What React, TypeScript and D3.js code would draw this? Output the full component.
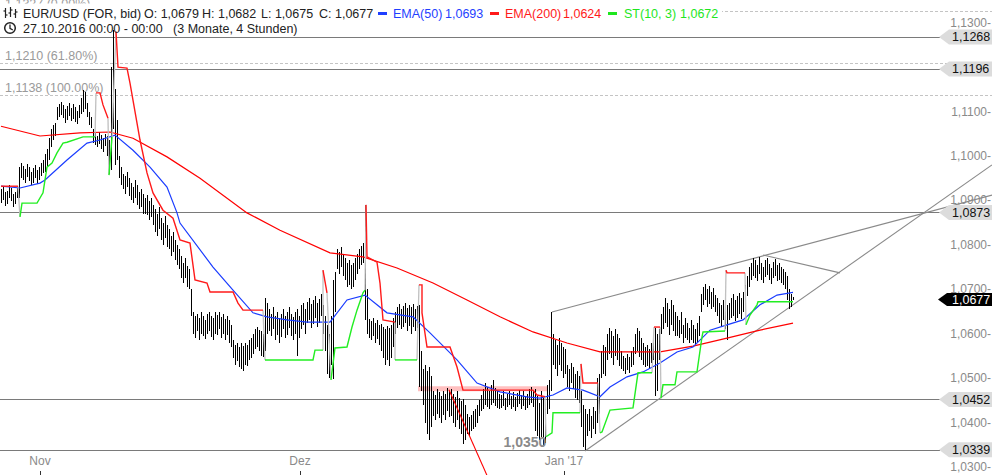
import React from 'react';
import * as d3 from 'd3';

const W = 992;
const H = 475;

// OHLC bar highs / lows, in pips above 1.0000 (e.g. 677 = 1.0677), 4-hour bars
const barHigh = [
  925, 930, 918, 922, 935, 928, 915, 920, 932,
  975,
  985, 978, 970, 982, 975, 965, 972, 980, 968, 975, 985, 990,
  1005, 1015, 1040, 1060, 1070, 1075,
  1110, 1118, 1122, 1115, 1105, 1112, 1120, 1108, 1116, 1110, 1102, 1114,
  1130, 1148, 1144, 1120, 1100, 1088,
  1060, 1052, 1045, 1055, 1048, 1040, 1050, 1045, 1035,
  1200, 1283, 1150,
  1080, 1000, 975, 960, 955, 965, 950, 940, 930, 945, 935, 920, 925, 915,
  905, 912, 898, 905, 890, 880, 870, 885, 860, 850, 865, 845,
  835, 820, 830, 810, 800, 790, 775, 760, 770, 752, 745,
  700, 650, 640, 645, 635, 648, 640, 630, 645, 650, 640, 635, 648, 642, 650, 638, 645, 632, 640, 630, 620,
  585, 575, 580, 570, 578, 572, 580, 575, 585, 590, 600, 610,
  615, 608, 605, 600, 680, 670,
  655, 645, 660, 640, 650, 635, 645, 655, 640, 648, 660, 645, 638, 650, 655, 640,
  665, 670, 655, 672, 680, 668, 675, 685, 670, 678, 690, 665, 640,
  620, 600, 640, 720, 740,
  790, 785, 795, 780, 770, 760, 765, 755, 760, 770, 780, 790, 798, 805, 890,
  700, 632, 628, 635, 625, 630, 620,
  622, 615, 610, 618, 612, 620, 635,
  650, 660, 668, 655, 662, 670, 658, 665, 660, 668, 655, 662,
  665, 560, 520, 530, 515, 525, 505,
  470, 462, 475, 468, 460, 472, 465, 478, 470,
  475, 465, 458, 470, 455, 448, 452, 440,
  420, 412, 418, 425, 430, 440,
  450, 462, 475, 490, 480, 470, 485, 495, 478, 470, 465,
  462, 470, 455, 465, 472, 460, 468, 458, 466, 474, 462, 470, 458, 465, 475, 480, 470,
  475, 460, 445, 470, 455, 430, 485, 495, 650,
  600, 585, 575, 590, 580, 570, 565,
  530, 520, 535, 525, 510, 515, 505,
  470, 440, 430,
  420, 430, 415, 435, 425, 500, 510,
  560, 575, 570,
  600, 612, 605, 595, 610, 600, 590,
  560, 550, 545, 555, 548, 562, 570,
  600, 612, 605, 590, 580, 570, 575, 565, 578, 585,
  612, 600, 610,
  645, 660, 680, 670, 655, 675, 665, 650,
  640, 630, 650, 620, 635, 625, 612, 630, 620, 610, 625, 640,
  690, 705, 712, 700, 708, 695, 702, 688, 680,
  670, 665, 675, 660, 665,
  670, 680, 690, 675, 685, 692, 680, 695,
  710, 730, 750,
  760, 770, 765, 755, 772, 760, 750, 765, 770, 758, 748, 762, 768, 755, 760, 750, 745, 740,
  730, 700, 690, 682,
];

const barLow = [
  895, 900, 888, 893, 905, 898, 886, 892, 905,
  905,
  950, 945, 940, 952, 944, 935, 940, 950, 938, 945, 955, 962,
  965, 975, 990, 1020, 1035, 1045,
  1080, 1088, 1092, 1085, 1075, 1080, 1090, 1078, 1084, 1076, 1072, 1085,
  1095, 1100, 1105, 1088, 1070, 1062,
  1030, 1025, 1020, 1028, 1015, 1010, 1022, 1000, 960,
  968, 1060, 980,
  990, 950, 935, 925, 915, 930, 910, 900, 895, 905, 890, 880, 885, 870,
  870, 868, 855, 862, 845, 830, 820, 835, 812, 800, 815, 795,
  790, 775, 785, 765, 755, 745, 725, 715, 725, 705, 700,
  640, 600, 590, 605, 585, 600, 595, 588, 600, 605, 592, 585, 600, 598, 610, 590, 600, 585, 596, 580, 570,
  545, 530, 538, 525, 520, 515, 530, 528, 540, 545, 555, 565,
  570, 560, 550, 548, 560, 600,
  605, 595, 610, 585, 598, 580, 592, 610, 590, 596, 612, 595, 585, 600, 550, 590,
  610, 620, 600, 625, 630, 612, 622, 635, 615, 625, 640, 600, 560,
  510, 500, 530, 498, 650,
  745, 735, 750, 730, 720, 705, 710, 700, 705, 720, 735, 745, 755, 760, 630,
  600, 590, 585, 595, 580, 588, 575,
  560, 545, 530, 540, 528, 545, 570,
  600, 612, 620, 610, 615, 625, 605, 618, 600, 615, 605, 612,
  480, 470, 440, 400, 375, 361, 390,
  415, 405, 420, 410, 400, 418, 405, 425, 412,
  415, 400, 390, 405, 385, 375, 352, 360,
  375, 370, 380, 385, 390, 400,
  415, 425, 430, 440, 435, 430, 440, 445, 438, 432, 430,
  432, 438, 428, 435, 440, 430, 436, 425, 434, 442, 430, 438, 428, 433, 440, 445, 435,
  380, 370, 360, 368, 350, 355, 420, 430, 470,
  530, 520, 505, 530, 515, 500, 510,
  480, 470, 490, 475, 455, 450, 445,
  390, 345, 339,
  370, 380, 365, 385, 375, 400, 420,
  500, 510, 505,
  540, 555, 545, 530, 550, 540, 528,
  520, 515, 510, 518, 512, 525, 530,
  555, 560, 548, 540, 530, 525, 528, 520, 535, 540,
  460, 470, 540,
  600, 610, 625, 615, 598, 620, 605, 595,
  595, 590, 600, 580, 590, 585, 578, 585, 580, 576, 582, 595,
  650, 665, 675, 660, 668, 655, 660, 648, 640,
  625, 615, 630, 610, 585,
  630, 635, 640, 628, 635, 645, 632, 650,
  665, 685, 705,
  722, 730, 725, 718, 735, 720, 715, 728, 732, 720, 712, 725, 730, 718, 722, 715, 710, 700,
  675, 655, 660, 675,
];

// EMA(200), EMA(50): [bar index, pips]
const ema200 = [
  [0, 1067], [19.5, 1045], [39.5, 1052], [54.5, 1054], [66, 1040], [83, 998], [99.5, 950],
  [123, 872], [139.5, 833], [164.5, 782], [181, 773], [198, 748], [216, 714], [233, 676],
  [249.5, 638], [266, 604], [283, 579], [299.5, 559], [313, 559], [329.5, 559], [346, 572],
  [363, 590], [379.5, 608], [396, 624],
];
const ema50 = [
  [0, 932], [9.5, 928], [19.5, 939], [22, 946], [33, 991], [43, 1029], [49.5, 1036], [57, 1047],
  [66, 1013], [74.5, 975], [83, 930], [88, 872], [89.5, 849], [106, 750], [116, 698], [126, 647],
  [133, 638], [143, 631], [153, 626], [164.5, 626], [173, 676], [182, 687], [193, 647], [206, 638],
  [214.5, 602], [228, 541], [238, 489], [249.5, 469], [263, 458], [269.5, 455], [276, 462],
  [283, 478], [291, 473], [299.5, 458], [304.5, 480], [313, 503], [321, 514], [329.5, 534],
  [338, 559], [346, 570], [354.5, 608], [363, 620], [371, 631], [379.5, 665], [388, 687], [396, 693],
];

// SuperTrend(10,3) segments, alternating bearish (red) / bullish (green)
const stSegments = [
  [[0, 932], [8.5, 932]],
  [[9.5, 863], [10.5, 894], [18, 894], [21, 917], [23, 975], [25.5, 984], [28, 1007], [31, 1029], [33, 1031], [41, 1043], [47, 1043]],
  [[47.5, 1142], [49.5, 1142], [51, 1115], [53.5, 1085]],
  [[54, 957], [55.5, 1043]],
  [[57.5, 1280], [58.5, 1200], [63, 1198], [64.5, 1164], [69.5, 1036], [73, 962], [76, 917], [81, 878], [86, 860], [89.5, 811], [94.5, 804], [97, 721], [103, 714], [104.5, 694], [116, 694], [118.5, 669], [121, 653], [131, 653]],
  [[132, 541], [156, 541], [157, 563], [161, 563]],
  [[161, 743], [163, 692]],
  [[165, 496], [167, 568], [173, 570], [175.5, 615], [178, 653], [181, 692], [182, 698]],
  [[182.5, 890], [183, 773], [188, 761], [189.5, 714], [191, 631], [197, 626]],
  [[197, 541], [208, 541]],
  [[209, 710], [210.5, 710], [210.5, 647], [213, 570], [224.5, 570], [228, 525], [231, 473], [266, 473], [268, 462], [272, 458]],
  [[272.5, 368], [275.5, 377], [276, 422], [289.5, 422]],
  [[290, 532], [291, 489], [298.5, 489]],
  [[299.5, 377], [300.5, 379], [304.5, 428], [316, 433], [318.5, 512], [325.5, 512]],
  [[326.5, 615], [329.5, 615]],
  [[330, 455], [331, 485], [337, 485], [338, 514], [348, 514], [350.5, 593], [351, 604], [362, 606]],
  [[362.5, 743], [363, 737], [372, 737]],
  [[372.5, 620], [374.5, 642], [378, 665], [378.5, 672], [396, 672]],
];

// Drawn trend lines [bar index, pips]
const grayTrendLines = [
  [[275.5, 649], [495.5, 912]],
  [[381, 777], [419.5, 737]],
  [[292, 336], [495.5, 980]],
];
const redTrendLine = [[224, 474], [250, 210]];
const supportBand = [[208.5, 476], [273, 476]];

const levelValues = [1.1268, 1.1196, 1.0873, 1.0452, 1.0339];
const lastPrice = 1.0677;
const fibValues = [1.1327, 1.121, 1.1138];
const fibLabels = ['1,1327 (0.00%)', '1,1210 (61.80%)', '1,1138 (100.00%)'];
const yTicks = [1.03, 1.04, 1.05, 1.06, 1.07, 1.08, 1.09, 1.1, 1.11, 1.12, 1.13];
const dateTickIdx = [19.5, 149.5, 281.5];
const dateTickLabels = ['Nov', 'Dez', "Jan '17"];
const lowLabel = { idx: 262, value: 1.035, text: '1,0350' };

const headerQuote = [
  { t: 'EUR/USD (FOR, bid)', x: 23 },
  { t: 'O: 1,0679', x: 144 },
  { t: 'H: 1,0682', x: 202 },
  { t: 'L: 1,0675', x: 261 },
  { t: 'C: 1,0677', x: 319 },
];
const headerInd = [
  { name: 'EMA(50)', val: '1,0693', color: '#1f3fff', dash: 378, x: 393, vx: 445 },
  { name: 'EMA(200)', val: '1,0624', color: '#ff1a1a', dash: 490, x: 505, vx: 563 },
  { name: 'ST(10, 3)', val: '1,0672', color: '#1ee61e', dash: 608, x: 624, vx: 680 },
];

const pip = (p: number) => 1 + p / 10000;
const fmt = (v: number) => v.toFixed(4).replace('.', ',');
const FONT = '"Liberation Sans", Arial, sans-serif';

export default function App() {
  const N = barHigh.length;
  const x = d3.scaleLinear().domain([0, N - 1]).range([1, 1 + 2 * (N - 1)]);
  const y = d3.scaleLinear().domain([1.03, 1.1]).range([467, 156]);
  const line = d3
    .line<number[]>()
    .x((d) => x(d[0]))
    .y((d) => y(pip(d[1])));

  const connectors: number[][][] = [];
  for (let k = 0; k < stSegments.length - 1; k++) {
    const a = stSegments[k][stSegments[k].length - 1];
    const b = stSegments[k + 1][0];
    connectors.push([a, b]);
  }

  const tag = (v: number) => {
    const c = y(v);
    return `M939,${c} L949,${c - 7.5} L992,${c - 7.5} L992,${c + 7.5} L949,${c + 7.5} Z`;
  };
  const lc = y(lastPrice);

  return (
    <div style={{ position: 'fixed', left: 0, top: 0, width: W, height: H, background: '#fff' }}>
      <svg width={W} height={H} style={{ display: 'block' }} fontFamily={FONT}>
        <rect width={W} height={H} fill="#fff" />
        {/* fib dashed lines */}
        {fibValues.map((v, k) => (
          <g key={'f' + k}>
            <line x1={0} x2={W} y1={Math.round(y(v)) + 0.5} y2={Math.round(y(v)) + 0.5} stroke="#c4c4c4" strokeDasharray="3,2" />
            <text x={5} y={y(v) - 2.5} fontSize={12.5} fill="#9a9a9a">{fibLabels[k]}</text>
          </g>
        ))}
        {/* horizontal levels */}
        {levelValues.map((v, k) => (
          <line key={'l' + k} x1={0} x2={940} y1={Math.round(y(v)) + 0.5} y2={Math.round(y(v)) + 0.5} stroke="#7a7a7a" strokeWidth={1.2} />
        ))}
        {/* gray trend lines */}
        {grayTrendLines.map((t, k) => (
          <path key={'t' + k} d={line(t) || ''} stroke="#8a8a8a" strokeWidth={1.1} fill="none" />
        ))}
        {/* support band */}
        <path d={line(supportBand) || ''} stroke="#ff3030" strokeOpacity={0.3} strokeWidth={5} fill="none" />
        {/* bars */}
        <g shapeRendering="crispEdges">
          {barHigh.map((h, i) => (
            <line key={'b' + i} x1={x(i) + 0.5} x2={x(i) + 0.5} y1={y(pip(h))} y2={y(pip(barLow[i]))} stroke="#000" strokeWidth={1} />
          ))}
        </g>
        {/* EMA 200 */}
        <path d={line(ema200) || ''} stroke="#ff0000" strokeWidth={1.2} fill="none" />
        {/* EMA 50 */}
        <path d={line(ema50) || ''} stroke="#1a3cff" strokeWidth={1.2} fill="none" />
        {/* supertrend */}
        {connectors.map((c, k) => (
          <path key={'c' + k} d={line(c) || ''} stroke="#c0c0c0" strokeWidth={1.3} fill="none" />
        ))}
        {stSegments.map((s, k) => (
          <path key={'s' + k} d={line(s) || ''} stroke={k % 2 === 0 ? '#ff1a1a' : '#22ee22'} strokeWidth={1.4} fill="none" />
        ))}
        {/* red trend line */}
        <path d={line(redTrendLine) || ''} stroke="#ff0000" strokeWidth={1.1} fill="none" />
        {/* low label */}
        <text x={x(lowLabel.idx)} y={y(lowLabel.value) + 2.5} textAnchor="middle" fontSize={14} fontWeight="bold" fill="#8a8a8a">
          {lowLabel.text}
        </text>
        {/* date axis */}
        {dateTickIdx.map((d, k) => (
          <g key={'d' + k}>
            <text x={x(d)} y={465} textAnchor="middle" fontSize={12} fill="#8a8a8a">{dateTickLabels[k]}</text>
            <line x1={Math.round(x(d)) + 0.5} x2={Math.round(x(d)) + 0.5} y1={471} y2={475} stroke="#333" />
          </g>
        ))}
        {/* y axis labels */}
        {yTicks.map((v, k) => (
          <text key={'y' + k} x={991} y={y(v) + 4} textAnchor="end" fontSize={12} fill="#8a8a8a">
            {fmt(v) + '-'}
          </text>
        ))}
        {/* level tags */}
        {levelValues.map((v, k) => (
          <g key={'g' + k}>
            <path d={tag(v)} fill="#dcdcdc" />
            <text x={952} y={y(v) + 4.5} fontSize={12.5} fill="#111">{fmt(v)}</text>
          </g>
        ))}
        <path d={`M938,${lc} L947,${lc - 6.5} L992,${lc - 6.5} L992,${lc + 6.5} L947,${lc + 6.5} Z`} fill="#000" />
        <text x={952} y={lc + 4.5} fontSize={12.5} fill="#fff">{fmt(lastPrice)}</text>
        {/* header */}
        <rect x={0} y={3.5} width={722} height={18} fill="#fff" />
        <g stroke="#222" strokeWidth={1.2} fill="none">
          <line x1={5.5} x2={5.5} y1={8} y2={18} />
          <line x1={3.5} x2={5.5} y1={11} y2={11} />
          <line x1={5.5} x2={7.5} y1={15} y2={15} />
          <line x1={10.5} x2={10.5} y1={7} y2={17} />
          <line x1={8.5} x2={10.5} y1={13} y2={13} />
          <line x1={10.5} x2={12.5} y1={10} y2={10} />
          <line x1={15.5} x2={15.5} y1={9} y2={18} />
          <line x1={13.5} x2={15.5} y1={14} y2={14} />
          <line x1={15.5} x2={17.5} y1={12} y2={12} />
          <circle cx={10} cy={28} r={5.3} strokeWidth={1.5} />
          <polyline points="10,24.5 10,28.3 12.8,30" strokeWidth={1.3} />
        </g>
        {headerQuote.map((h, k) => (
          <text key={'h' + k} x={h.x} y={17.5} fontSize={12.5} fill="#222">{h.t}</text>
        ))}
        {headerInd.map((h, k) => (
          <g key={'i' + k}>
            <rect x={h.dash} y={12} width={9} height={3} fill={h.color} />
            <text x={h.x} y={17.5} fontSize={12.5} fill={h.color}>{h.name}</text>
            <text x={h.vx} y={17.5} fontSize={12.5} fill={h.color}>{h.val}</text>
          </g>
        ))}
        <text x={23} y={32.5} fontSize={12.5} fill="#222" xmlSpace="preserve">
          {'27.10.2016 00:00 - 00:00   (3 Monate, 4 Stunden)'}
        </text>
      </svg>
    </div>
  );
}
